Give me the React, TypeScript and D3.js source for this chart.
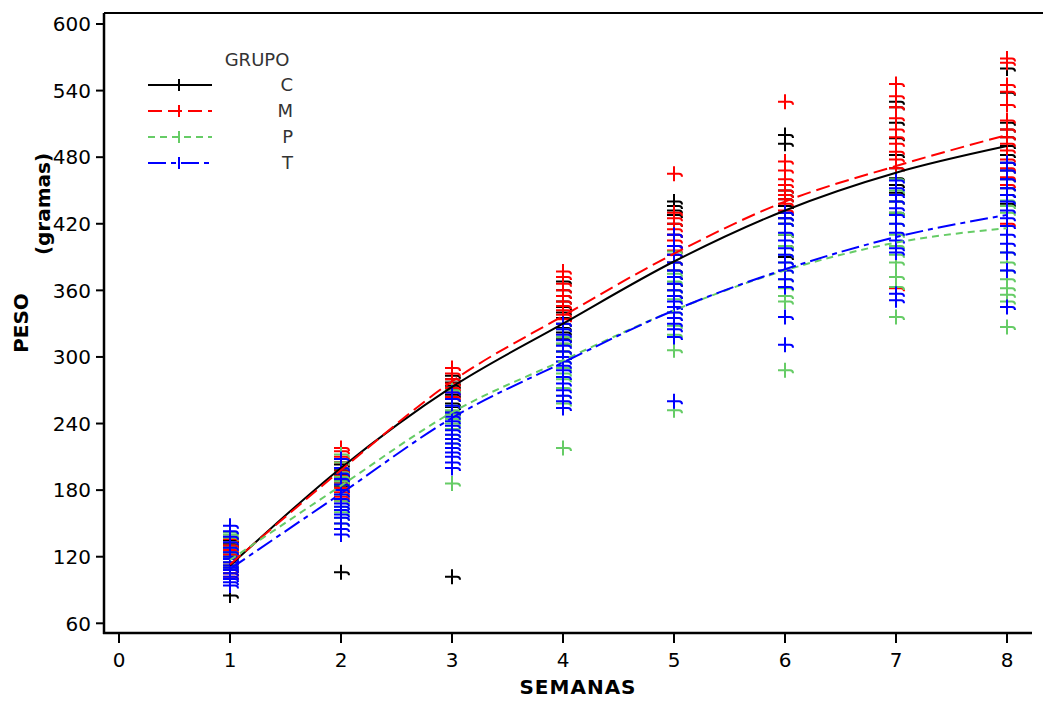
import * as d3 from 'd3';

const weeks = [1, 2, 3, 4, 5, 6, 7, 8];
const xTicks = [0, 1, 2, 3, 4, 5, 6, 7, 8];
const yTicks = [60, 120, 180, 240, 300, 360, 420, 480, 540, 600];

// mean curve per group
const meanC = [112, 200, 273, 330, 386, 432, 466, 490];
const meanM = [113, 198, 278, 337, 393, 440, 472, 500];
const meanP = [117, 184, 250, 297, 342, 378, 403, 416];
const meanT = [109, 177, 245, 295, 342, 379, 408, 428];

// individual weights, one list per week
const ptsC = [
  [138, 135, 132, 130, 128, 125, 122, 120, 118, 115, 112, 110, 108, 105, 85],
  [205, 203, 200, 198, 196, 194, 192, 190, 188, 186, 184, 180, 106],
  [283, 280, 277, 274, 270, 266, 262, 258, 255, 250, 102],
  [368, 360, 355, 350, 345, 340, 335, 330, 326, 322, 316, 312, 305],
  [440, 436, 432, 428, 420, 410, 400, 392, 385, 378, 372, 366, 360, 355],
  [500, 492, 450, 446, 442, 436, 430, 425, 420, 410, 400, 390],
  [530, 525, 511, 497, 482, 470, 461, 455, 448, 440, 430],
  [560, 538, 511, 505, 498, 490, 482, 475, 468, 460, 452, 446, 438],
];
const ptsM = [
  [136, 133, 130, 126, 122, 118, 115, 112, 110, 108, 105, 102],
  [218, 215, 210, 205, 200, 197, 193, 190, 186, 182, 178, 174, 170],
  [290, 285, 280, 276, 272, 268, 264, 262],
  [377, 372, 366, 360, 355, 350, 346, 342, 338, 334],
  [465, 430, 425, 420, 415, 410, 405, 400, 396, 392, 385],
  [530, 476, 468, 460, 455, 450, 446, 442, 438, 432],
  [546, 535, 525, 515, 505, 498, 492, 485, 478, 470, 362],
  [569, 565, 545, 539, 527, 513, 505, 498, 492, 486, 478, 470, 462, 455, 420],
];
const ptsP = [
  [142, 140, 137, 133, 128, 124, 120, 118, 115, 112, 110],
  [212, 205, 200, 196, 192, 190, 188, 185, 180, 176, 170, 165, 160, 155, 150],
  [270, 262, 256, 252, 248, 244, 240, 235, 230, 226, 222, 186],
  [325, 318, 312, 305, 300, 296, 290, 285, 280, 272, 265, 258, 218],
  [395, 385, 375, 368, 360, 352, 345, 340, 335, 328, 320, 306, 252],
  [420, 410, 400, 392, 385, 378, 370, 362, 355, 350, 288],
  [460, 450, 440, 430, 420, 410, 400, 392, 385, 372, 363, 336],
  [441, 436, 430, 394, 385, 378, 370, 362, 356, 350, 327],
];
const ptsT = [
  [148, 143, 138, 133, 128, 124, 120, 118, 115, 112, 110, 108, 105, 102, 100, 97, 94],
  [208, 200, 195, 190, 185, 180, 176, 172, 168, 165, 162, 158, 155, 150, 145, 140],
  [268, 262, 256, 250, 246, 242, 238, 234, 230, 226, 222, 218, 214, 210, 205, 200],
  [330, 325, 320, 315, 310, 305, 300, 296, 292, 288, 282, 276, 270, 265, 260, 254],
  [410, 400, 392, 385, 378, 372, 366, 360, 355, 350, 345, 340, 335, 330, 325, 318, 260],
  [430, 425, 420, 412, 405, 398, 392, 385, 378, 370, 363, 336, 311],
  [459, 452, 446, 440, 434, 428, 420, 412, 405, 398, 394, 357, 351],
  [475, 468, 460, 452, 446, 440, 432, 425, 418, 410, 402, 394, 378, 345],
];

const groups = [
  { name: 'C', color: '#000000', dash: 'none', mean: meanC, pts: ptsC },
  { name: 'M', color: '#ff0000', dash: '14,6', mean: meanM, pts: ptsM },
  { name: 'P', color: '#66cc66', dash: '7,5', mean: meanP, pts: ptsP },
  { name: 'T', color: '#0000ff', dash: '18,5,5,5', mean: meanT, pts: ptsT },
];

const FONT = '"DejaVu Sans", Verdana, sans-serif';
const plusPath = 'M0,-7.5V7.5M-7,0H5Q8,0 8,3';

export default function App() {
  const x = d3.scaleLinear().domain([0, 8]).range([119, 1007]);
  const y = d3.scaleLinear().domain([60, 600]).range([623.3, 24]);
  const left = 104;
  const bottom = 633;
  const top = 13;

  const line = d3
    .line<number>()
    .x((_, i) => x(weeks[i]))
    .y((d) => y(d))
    .curve(d3.curveMonotoneX);

  return (
    <div style={{ position: 'fixed', left: 0, top: 0 }}>
      <svg width={1043} height={701} style={{ display: 'block', background: '#fff' }} fontFamily={FONT}>
        {/* frame */}
        <line x1={left} x2={1043} y1={top} y2={top} stroke="#000" strokeWidth={2} />
        <line x1={left} x2={left} y1={top} y2={bottom + 1} stroke="#000" strokeWidth={2.5} />
        <line x1={left - 1} x2={1032} y1={bottom} y2={bottom} stroke="#000" strokeWidth={2.5} />

        {/* y axis */}
        {yTicks.map((t) => (
          <g key={'y' + t}>
            <line x1={96} x2={left} y1={y(t)} y2={y(t)} stroke="#000" strokeWidth={2} />
            <text x={91} y={y(t)} dy="0.36em" textAnchor="end" fontSize={20}>
              {t}
            </text>
          </g>
        ))}

        {/* x axis */}
        {xTicks.map((t) => (
          <g key={'x' + t}>
            <line x1={x(t)} x2={x(t)} y1={bottom} y2={bottom + 10} stroke="#000" strokeWidth={2} />
            <text x={x(t)} y={667} textAnchor="middle" fontSize={20}>
              {t}
            </text>
          </g>
        ))}

        <text x={578} y={694} textAnchor="middle" fontSize={20} fontWeight="bold" letterSpacing={1}>
          SEMANAS
        </text>
        <text transform="translate(28,323) rotate(-90)" textAnchor="middle" fontSize={20} fontWeight="bold">
          PESO
        </text>
        <text transform="translate(50,204) rotate(-90)" textAnchor="middle" fontSize={20} fontWeight="bold">
          (gramas)
        </text>

        {/* points */}
        {groups.map((g) => (
          <g key={'p' + g.name} stroke={g.color} strokeWidth={2} fill="none">
            {g.pts.map((vals, i) =>
              vals.map((v, j) => (
                <path key={i + '-' + j} d={plusPath} transform={`translate(${x(weeks[i])},${y(v)})`} />
              ))
            )}
          </g>
        ))}

        {/* mean curves */}
        {groups.map((g) => (
          <path
            key={'l' + g.name}
            d={line(g.mean) || ''}
            fill="none"
            stroke={g.color}
            strokeWidth={2}
            strokeDasharray={g.dash}
          />
        ))}

        {/* legend */}
        <text x={257} y={59.5} dy="0.36em" textAnchor="middle" fontSize={18} fill="#333">
          GRUPO
        </text>
        {groups.map((g, i) => {
          const ly = 85 + i * 26;
          return (
            <g key={'lg' + g.name}>
              <line x1={148} x2={212} y1={ly} y2={ly} stroke={g.color} strokeWidth={2} strokeDasharray={g.dash} />
              <line x1={179} x2={179} y1={ly - 6} y2={ly + 6} stroke={g.color} strokeWidth={2} />
              <text x={293} y={ly} dy="0.36em" textAnchor="end" fontSize={18} fill="#333">
                {g.name}
              </text>
            </g>
          );
        })}
      </svg>
    </div>
  );
}
